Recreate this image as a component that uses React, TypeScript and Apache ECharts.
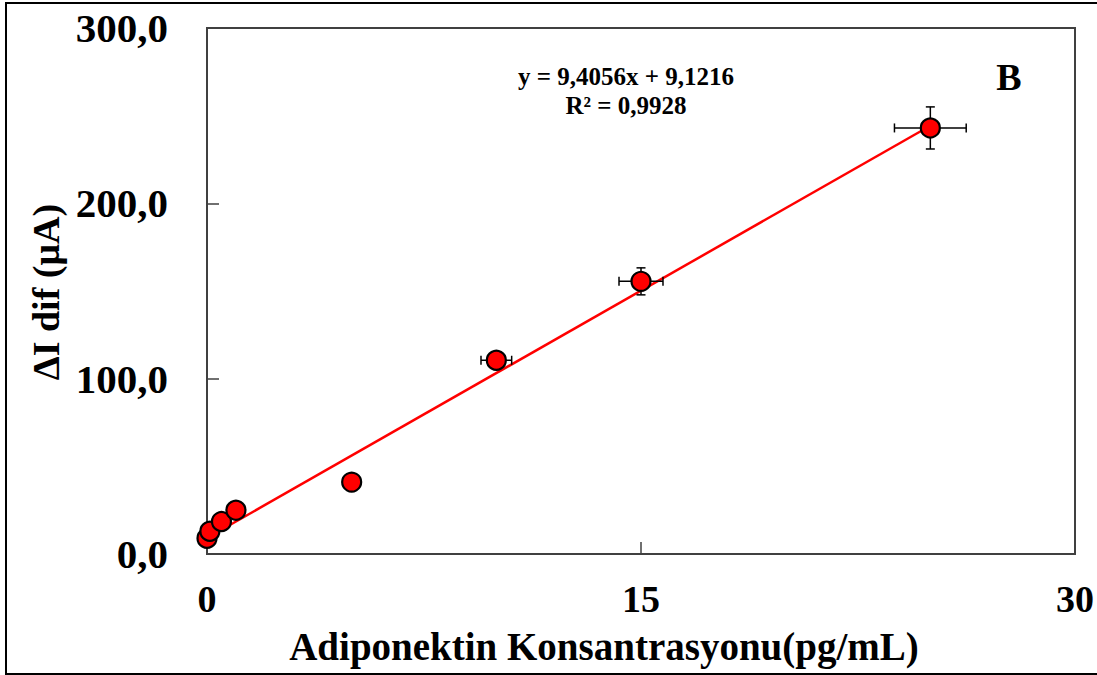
import React, { useEffect, useRef } from "react";
import * as echarts from "echarts";

// Measured data (Adiponektin concentration vs ΔI dif)
const xValues = [0, 0.1, 0.5, 1, 5, 10, 15, 25];
const yValues = [9, 13, 18.5, 25, 41, 110.5, 155.5, 243];
const xErrors = [0, 0, 0, 0, 0, 0.53, 0.76, 1.24];
const yErrors = [0, 0, 0, 0, 0, 3, 7.7, 12];

// Linear fit given on the chart
const slope = 9.4056;
const intercept = 9.1216;
const fitRange = [0, 25];

const xTicks = [0, 15, 30];
const yTicks = [0, 100, 200, 300];

const equationText = "y = 9,4056x + 9,1216";
const r2Text = "R² = 0,9928";
const panelLabel = "B";
const xTitle = "Adiponektin Konsantrasyonu(pg/mL)";
const yTitle = "ΔI dif (μA)";

const FONT = "'Liberation Serif', 'Times New Roman', serif";

export default function App() {
  const ref = useRef<HTMLDivElement>(null);

  useEffect(() => {
    if (!ref.current) return;
    const chart = echarts.init(ref.current, null, { renderer: "svg" });

    const points = xValues.map((x, i) => [x, yValues[i]]);
    const errData = xValues.map((x, i) => [x, yValues[i], xErrors[i], yErrors[i]]);
    const fitData = fitRange.map((x) => [x, slope * x + intercept]);

    const option: any = {
      animation: false,
      backgroundColor: "#ffffff",
      grid: {
        left: 207,
        top: 28,
        right: 20,
        bottom: 121,
        show: true,
        borderColor: "#404040",
        borderWidth: 2,
        backgroundColor: "transparent",
      },
      xAxis: {
        type: "value",
        min: xTicks[0],
        max: xTicks[xTicks.length - 1],
        interval: 15,
        axisLine: { show: true, lineStyle: { color: "#404040", width: 2 } },
        axisTick: { show: true, inside: true, length: 12, lineStyle: { color: "#404040", width: 1.5 } },
        splitLine: { show: false },
        axisLabel: {
          margin: 26,
          color: "#000",
          fontFamily: FONT,
          fontWeight: "bold",
          fontSize: 38,
          formatter: (v: number) => String(v),
        },
      },
      yAxis: {
        type: "value",
        min: yTicks[0],
        max: yTicks[yTicks.length - 1],
        interval: 100,
        axisLine: { show: true, lineStyle: { color: "#404040", width: 2 } },
        axisTick: { show: true, inside: true, length: 12, lineStyle: { color: "#404040", width: 1.5 } },
        splitLine: { show: false },
        axisLabel: {
          margin: 39,
          color: "#000",
          fontFamily: FONT,
          fontWeight: "bold",
          fontSize: 41,
          formatter: (v: number) => v.toFixed(1).replace(".", ","),
        },
      },
      series: [
        {
          type: "line",
          data: fitData,
          symbol: "none",
          lineStyle: { color: "#ff0000", width: 2.5 },
          z: 1,
        },
        {
          type: "custom",
          data: errData,
          z: 2,
          renderItem: (params: any, api: any) => {
            const x = api.value(0);
            const y = api.value(1);
            const xe = api.value(2);
            const ye = api.value(3);
            const cap = 4.5;
            const style = { stroke: "#000", lineWidth: 1.5 };
            const children: any[] = [];
            if (xe > 0) {
              const a = api.coord([x - xe, y]);
              const b = api.coord([x + xe, y]);
              children.push({ type: "line", shape: { x1: a[0], y1: a[1], x2: b[0], y2: b[1] }, style });
              children.push({ type: "line", shape: { x1: a[0], y1: a[1] - cap, x2: a[0], y2: a[1] + cap }, style });
              children.push({ type: "line", shape: { x1: b[0], y1: b[1] - cap, x2: b[0], y2: b[1] + cap }, style });
            }
            if (ye > 0) {
              const a = api.coord([x, y - ye]);
              const b = api.coord([x, y + ye]);
              children.push({ type: "line", shape: { x1: a[0], y1: a[1], x2: b[0], y2: b[1] }, style });
              children.push({ type: "line", shape: { x1: a[0] - cap, y1: a[1], x2: a[0] + cap, y2: a[1] }, style });
              children.push({ type: "line", shape: { x1: b[0] - cap, y1: b[1], x2: b[0] + cap, y2: b[1] }, style });
            }
            return { type: "group", children };
          },
        },
        {
          type: "scatter",
          data: points,
          symbol: "circle",
          symbolSize: 19,
          itemStyle: { color: "#ff0000", borderColor: "#000", borderWidth: 2.2, opacity: 1 },
          z: 3,
        },
      ],
      graphic: [
        {
          type: "rect",
          shape: { x: 6, y: 3, width: 1100, height: 671 },
          style: { fill: "none", stroke: "#000", lineWidth: 2 },
          silent: true,
        },
        {
          type: "text",
          x: 626,
          y: 76,
          style: {
            text: equationText,
            fontFamily: FONT,
            fontWeight: "bold",
            fontSize: 25,
            fill: "#000",
            align: "center",
            verticalAlign: "middle",
          },
        },
        {
          type: "text",
          x: 626,
          y: 105,
          style: {
            text: r2Text,
            fontFamily: FONT,
            fontWeight: "bold",
            fontSize: 25,
            fill: "#000",
            align: "center",
            verticalAlign: "middle",
          },
        },
        {
          type: "text",
          x: 1009,
          y: 77,
          style: {
            text: panelLabel,
            fontFamily: FONT,
            fontWeight: "bold",
            fontSize: 38,
            fill: "#000",
            align: "center",
            verticalAlign: "middle",
          },
        },
        {
          type: "text",
          x: 604,
          y: 646,
          style: {
            text: xTitle,
            fontFamily: FONT,
            fontWeight: "bold",
            fontSize: 39,
            fill: "#000",
            align: "center",
            verticalAlign: "middle",
          },
        },
        {
          type: "text",
          x: 46,
          y: 292,
          rotation: Math.PI / 2,
          style: {
            text: yTitle,
            fontFamily: FONT,
            fontWeight: "bold",
            fontSize: 38,
            fill: "#000",
            align: "center",
            verticalAlign: "middle",
          },
        },
      ],
    };

    chart.setOption(option);
    return () => chart.dispose();
  }, []);

  return (
    <div
      ref={ref}
      style={{ position: "fixed", left: 0, top: 0, width: 1097, height: 675, background: "#fff" }}
    />
  );
}
